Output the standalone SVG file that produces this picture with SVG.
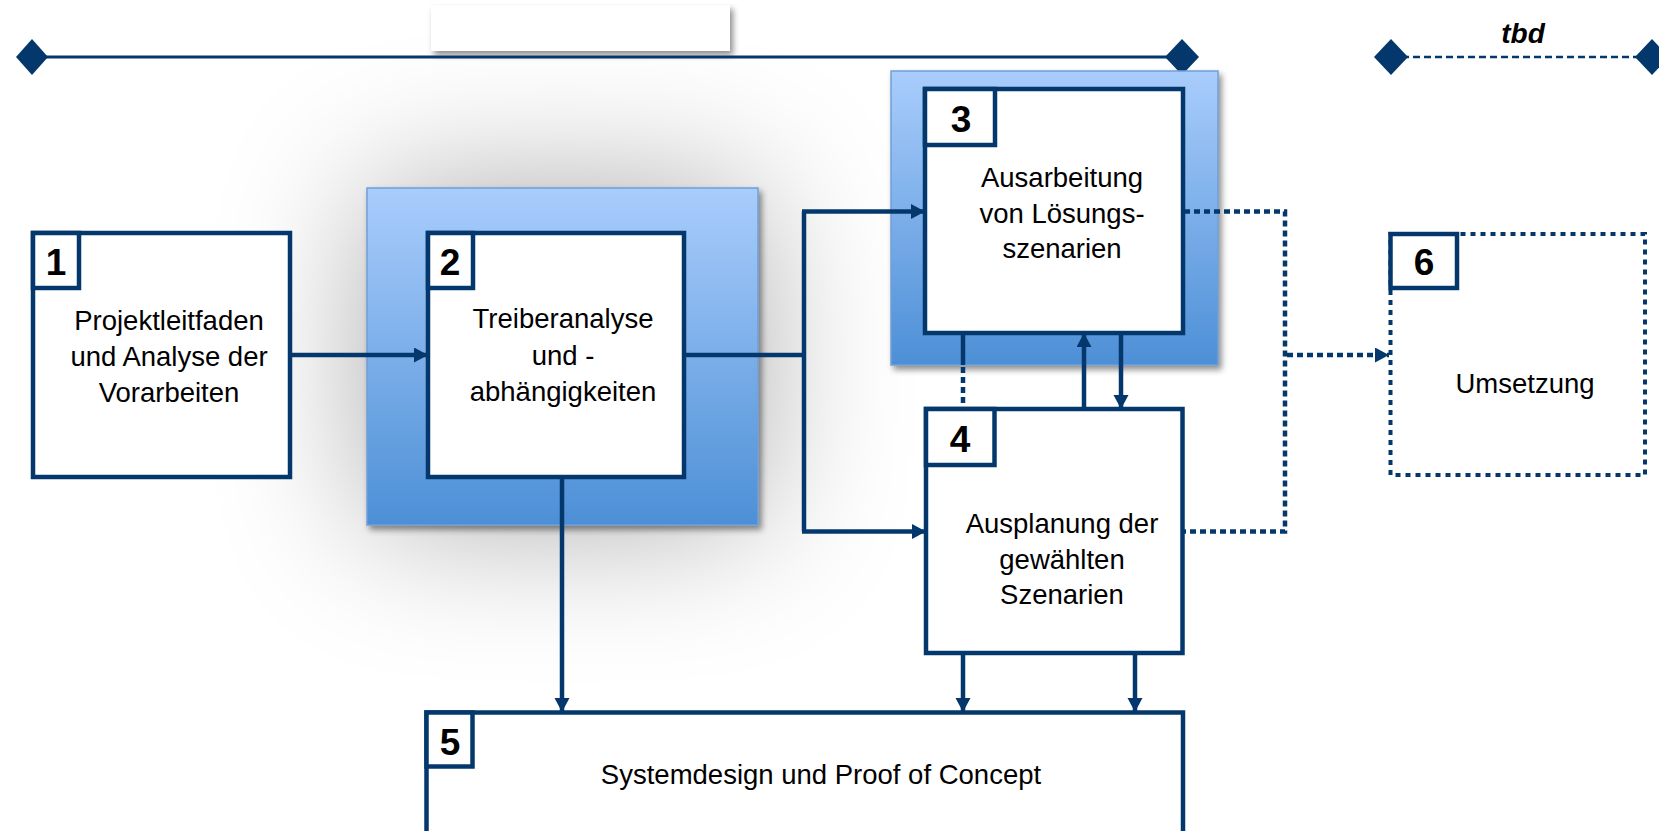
<svg xmlns="http://www.w3.org/2000/svg" width="1659" height="831" viewBox="0 0 1659 831">
<defs>
<style>
.box{fill:#fff;stroke:#04386c;stroke-width:4.5}
.nb{fill:#fff;stroke:#04386c;stroke-width:4.5}
.num{font-family:"Liberation Sans",Arial,sans-serif;font-weight:bold;font-size:37px;fill:#000;text-anchor:middle}
.txt{font-family:"Liberation Sans",Arial,sans-serif;font-size:27.5px;fill:#000;text-anchor:middle}
.con{fill:none;stroke:#04386c;stroke-width:4.5}
.dot{fill:none;stroke:#04386c;stroke-width:4.5;stroke-dasharray:6 4}
.back{fill:url(#blueGrad);stroke:#6f9fd6;stroke-width:1.5}
</style>
<linearGradient id="blueGrad" x1="0" y1="0" x2="0" y2="1">
<stop offset="0" stop-color="#a9cdfc"/>
<stop offset="1" stop-color="#4d8fd6"/>
</linearGradient>
<filter id="glow" x="-100%" y="-100%" width="300%" height="300%">
<feGaussianBlur stdDeviation="75"/>
</filter>
<filter id="drop" x="-10%" y="-10%" width="130%" height="130%">
<feGaussianBlur in="SourceAlpha" stdDeviation="3"/>
<feOffset dx="3" dy="4" result="b"/>
<feComponentTransfer><feFuncA type="linear" slope="0.45"/></feComponentTransfer>
<feMerge><feMergeNode/><feMergeNode in="SourceGraphic"/></feMerge>
</filter>
<marker id="arr" markerUnits="userSpaceOnUse" markerWidth="16" markerHeight="16" refX="14" refY="7.5" orient="auto">
<path d="M0,0 L14,7.5 L0,15 z" fill="#04386c"/>
</marker>
</defs>
<rect width="1659" height="831" fill="#fff"/>
<!-- big soft shadow -->
<rect x="367" y="188" width="391" height="337" fill="#000" opacity="0.33" filter="url(#glow)"/>

<!-- timeline -->
<g id="timeline">
<rect x="431" y="5" width="299" height="46" fill="#fff" filter="url(#drop)"/>
<line x1="32" y1="57" x2="1182" y2="57" stroke="#04386c" stroke-width="3"/>
<path d="M32,39 L48,57 L32,75 L16,57 z" fill="#04386c"/>
<path d="M1182,39 L1199,57 L1182,75 L1165,57 z" fill="#04386c"/>
<line x1="1391" y1="57" x2="1652" y2="57" stroke="#04386c" stroke-width="2.5" stroke-dasharray="7 4"/>
<path d="M1391,39 L1408,57 L1391,75 L1374,57 z" fill="#04386c"/>
<path d="M1652,39 L1669,57 L1652,75 L1635,57 z" fill="#04386c"/>
<text x="1523" y="43" font-family="'Liberation Sans',Arial,sans-serif" font-weight="bold" font-style="italic" font-size="28" text-anchor="middle">tbd</text>
</g>

<!-- blue backgrounds -->
<rect class="back" x="367" y="188" width="391" height="337" filter="url(#drop)"/>
<rect class="back" x="891" y="71" width="327" height="294" filter="url(#drop)"/>

<g id="connectors">
<line class="con" x1="290" y1="355" x2="428" y2="355" marker-end="url(#arr)"/>
<polyline class="con" points="684,355 804,355"/>
<line class="con" x1="804" y1="211.5" x2="804" y2="531.5"/>
<line class="con" x1="802" y1="211.5" x2="925" y2="211.5" marker-end="url(#arr)"/>
<line class="con" x1="802" y1="531.5" x2="926" y2="531.5" marker-end="url(#arr)"/>
<line class="con" x1="562" y1="477" x2="562" y2="712" marker-end="url(#arr)"/>
<line class="con" x1="1084" y1="409" x2="1084" y2="333" marker-end="url(#arr)"/>
<line class="con" x1="1121" y1="333" x2="1121" y2="409" marker-end="url(#arr)"/>
<line class="con" x1="963" y1="333" x2="963" y2="365"/>
<line class="dot" x1="963" y1="367" x2="963" y2="409"/>
<line class="con" x1="963" y1="653" x2="963" y2="712" marker-end="url(#arr)"/>
<line class="con" x1="1135" y1="653" x2="1135" y2="712" marker-end="url(#arr)"/>
<polyline class="dot" points="1184,211.5 1285,211.5 1285,531.5 1184,531.5"/>
<line class="dot" x1="1287" y1="355" x2="1389" y2="355" marker-end="url(#arr)"/>
</g>

<g id="node1">
<rect class="box" x="33" y="233" width="257" height="244"/>
<rect class="nb" x="33" y="233" width="46" height="55"/>
<text class="num" x="56" y="275">1</text>
<text class="txt" x="169" y="330">Projektleitfaden</text>
<text class="txt" x="169" y="366">und Analyse der</text>
<text class="txt" x="169" y="402">Vorarbeiten</text>
</g>

<g id="node2">
<rect class="box" x="428" y="233" width="256" height="244"/>
<rect class="nb" x="428" y="233" width="45" height="55"/>
<text class="num" x="450" y="275">2</text>
<text class="txt" x="563" y="328">Treiberanalyse</text>
<text class="txt" x="563" y="365">und -</text>
<text class="txt" x="563" y="401">abhängigkeiten</text>
</g>

<g id="node3">
<rect class="box" x="925" y="89" width="258" height="244"/>
<rect class="nb" x="925" y="89" width="70" height="56"/>
<text class="num" x="961" y="132">3</text>
<text class="txt" x="1062" y="187">Ausarbeitung</text>
<text class="txt" x="1062" y="223">von Lösungs-</text>
<text class="txt" x="1062" y="258">szenarien</text>
</g>

<g id="node4">
<rect class="box" x="926" y="409" width="256.5" height="244"/>
<rect class="nb" x="926" y="409" width="68.5" height="56"/>
<text class="num" x="960" y="452">4</text>
<text class="txt" x="1062" y="533">Ausplanung der</text>
<text class="txt" x="1062" y="569">gewählten</text>
<text class="txt" x="1062" y="604">Szenarien</text>
</g>

<g id="node5">
<rect class="box" x="426.5" y="712.5" width="756.5" height="130"/>
<rect class="nb" x="426.5" y="712.5" width="46" height="54"/>
<text class="num" x="450" y="755">5</text>
<text class="txt" x="821" y="784">Systemdesign und Proof of Concept</text>
</g>

<g id="node6">
<rect x="1390.5" y="234" width="254.5" height="241" fill="#fff" stroke="#04386c" stroke-width="4" stroke-dasharray="5 5"/>
<rect class="nb" x="1390.5" y="234" width="66.5" height="54"/>
<text class="num" x="1424" y="275">6</text>
<text class="txt" x="1525" y="393">Umsetzung</text>
</g>
</svg>
